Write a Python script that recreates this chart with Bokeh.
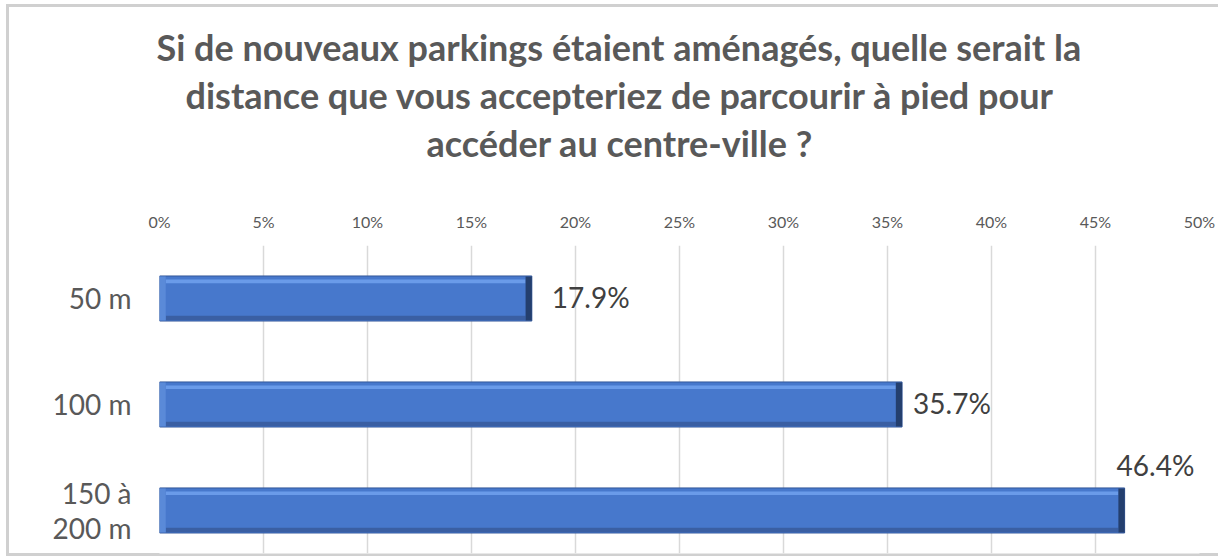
import numpy as np
from bokeh.plotting import figure
from bokeh.models import Range1d, FixedTicker, PrintfTickFormatter, ColumnDataSource, Title
from bokeh.core.properties import value
from bokeh.embed import file_html
from bokeh.resources import INLINE

# ---- data ----
categories = ["50 m", "100 m", "150 à\n200 m"]
percentages = [17.9, 35.7, 46.4]
value_labels = ["17.9%", "35.7%", "46.4%"]
x_ticks = [0, 5, 10, 15, 20, 25, 30, 35, 40, 45, 50]
title_lines = ["Si de nouveaux parkings étaient aménagés, quelle serait la",
               "distance que vous accepteriez de parcourir à pied pour",
               "accéder au centre-ville ?"]

pos = list(range(len(categories)))
src = ColumnDataSource(dict(y=pos, v=percentages, lab=value_labels))

FONT = "Lato"
GREY = "#595959"
EDGE = "#d0d0d0"

p = figure(width=1218, height=560, output_backend="svg", toolbar_location=None,
           x_axis_location="above", x_range=Range1d(0, 50), y_range=Range1d(2.406, -0.5),
           min_border_left=159, min_border_right=19, min_border_top=245, min_border_bottom=7)

# outer chart border drawn as CSS background behind a transparent border area
p.border_fill_color = None
p.background_fill_color = "white"
p.outline_line_color = None
p.styles = {
    "background-color": "white",
    "background-image": (f"linear-gradient({EDGE},{EDGE}), linear-gradient({EDGE},{EDGE}), "
                         f"linear-gradient({EDGE},{EDGE})"),
    "background-size": "3px 552px, 1220px 3px, 1220px 3px",
    "background-position": "6px 4px, 6px 4px, 6px 553px",
    "background-repeat": "no-repeat",
}

# title lines: spacer first (nearest the plot), then lines from bottom to top
p.add_layout(Title(text=" ", text_font_size="1px", standoff=40), "above")
offsets = [-3, 26, 267]
for line, off in reversed(list(zip(title_lines, offsets))):
    p.add_layout(Title(text=line, align="left", offset=off, standoff=2,
                       text_font=FONT, text_font_size="36px", text_font_style="bold",
                       text_color=GREY), "above")

xa = p.xaxis[0]
xa.ticker = FixedTicker(ticks=x_ticks)
xa.formatter = PrintfTickFormatter(format="%d%%")
xa.axis_line_color = None
xa.major_tick_line_color = None
xa.minor_tick_line_color = None
xa.major_label_standoff = 9
xa.major_label_text_font = FONT
xa.major_label_text_font_size = "16px"
xa.major_label_text_color = GREY

ya = p.yaxis[0]
ya.ticker = FixedTicker(ticks=pos)
ya.major_label_overrides = {i: c for i, c in zip(pos, categories)}
ya.axis_line_color = None
ya.major_tick_line_color = None
ya.minor_tick_line_color = None
ya.major_label_standoff = 22
ya.major_label_text_font = FONT
ya.major_label_text_font_size = "28px"
ya.major_label_text_color = GREY
ya.major_label_text_align = "center"
ya.major_label_text_line_height = 1.05

p.xgrid.grid_line_color = "#d9d9d9"
p.xgrid.grid_line_width = 1.5
p.ygrid.grid_line_color = None

H = 0.425
y_arr = np.array(pos, dtype=float)
v_arr = np.array(percentages)
# main bar
p.hbar(y="y", right="v", left=0, height=H, source=src,
       fill_color="#4778cc", line_color="#34589a", line_width=1)
# bevel: top highlight, bottom shade, left and right ends
p.hbar(y=y_arr - H / 2 + 0.05, right=v_arr - 0.3, left=0.3, height=0.035,
       fill_color="#6a9be9", line_color=None)
p.hbar(y=y_arr + H / 2 - 0.03, right=v_arr - 0.3, left=0.3, height=0.04,
       fill_color="#3a5fa3", line_color=None)
p.hbar(y=y_arr, right=v_arr, left=v_arr - 0.3, height=H - 0.01,
       fill_color="#243f6e", line_color=None)
p.hbar(y=y_arr, right=0.3, left=0, height=H - 0.01,
       fill_color="#5a8ad8", line_color=None)

# data labels
x_off = [20, 11, -8]
y_off = [-1, -1, -45]
for i in range(len(pos)):
    p.text(x=[percentages[i]], y=[pos[i]], text=[value_labels[i]],
           x_offset=x_off[i], y_offset=y_off[i],
           text_font=value(FONT), text_font_size="28px", text_color="#404040",
           text_align="left", text_baseline="middle")

open("out.html", "w").write(file_html(p, INLINE))
